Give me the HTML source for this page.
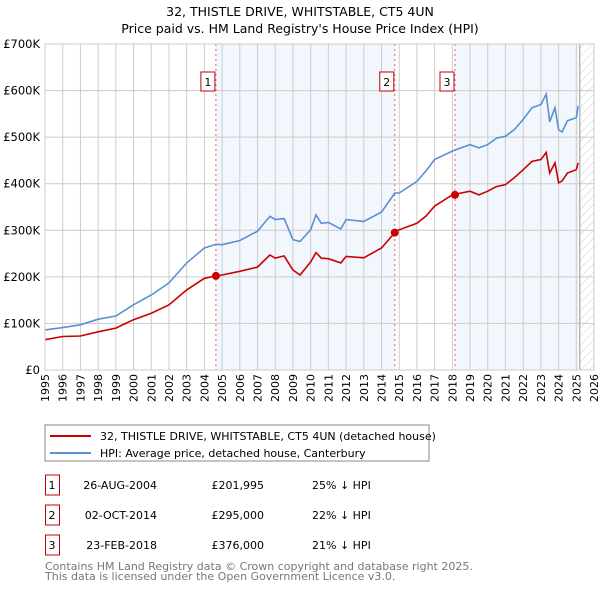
<!DOCTYPE html>
<html><head><meta charset="utf-8"><style>
body{margin:0;background:#fff;font-family:"Liberation Sans","DejaVu Sans",sans-serif;}
svg text{font-family:"DejaVu Sans","Liberation Sans",sans-serif;}
</style></head><body>
<svg id="c" width="600" height="590" xmlns="http://www.w3.org/2000/svg">
<defs><pattern id="hatch" width="6" height="6" patternUnits="userSpaceOnUse" patternTransform="rotate(45)"><line x1="0" y1="0" x2="0" y2="6" stroke="#ccc" stroke-width="1"/></pattern></defs>
<text x="300" y="16" text-anchor="middle" font-size="12.5">32, THISTLE DRIVE, WHITSTABLE, CT5 4UN</text>
<text x="300" y="33" text-anchor="middle" font-size="12.5">Price paid vs. HM Land Registry's House Price Index (HPI)</text>
<g id="plot"></g>
<rect x="45" y="425" width="384" height="36" fill="#fff" stroke="#888"/>
<line x1="50" y1="436" x2="91" y2="436" stroke="#cc0000" stroke-width="2"/>
<text x="100" y="440" font-size="11">32, THISTLE DRIVE, WHITSTABLE, CT5 4UN (detached house)</text>
<line x1="50" y1="453" x2="91" y2="453" stroke="#5b8fd4" stroke-width="2"/>
<text x="100" y="457" font-size="11">HPI: Average price, detached house, Canterbury</text>
<g id="tbl" font-size="11"></g>
<text x="45" y="570" font-size="11" fill="#777">Contains HM Land Registry data © Crown copyright and database right 2025.</text>
<text x="45" y="580" font-size="11" fill="#777">This data is licensed under the Open Government Licence v3.0.</text>
</svg>
<script>
const hpiYears=[1995,1996,1997,1998,1999,2000,2001,2002,2003,2004,2004.65,2005,2006,2007,2007.7,2008,2008.5,2009,2009.4,2010,2010.3,2010.6,2011,2011.7,2012,2013,2014,2014.75,2015,2016,2016.5,2017,2018,2019,2019.5,2020,2020.5,2021,2021.5,2022,2022.5,2023,2023.3,2023.5,2023.8,2024,2024.2,2024.5,2025,2025.1];
const hpiValues=[86,91,97,109,116,140,161,187,230,262,270,269,278,298,330,323,325,280,276,301,333,315,317,303,323,319,339,380,380,405,427,452,470,484,477,484,498,502,516,538,563,570,592,533,563,516,511,535,542,567];
const priceValues=[65,72,73,82,90,108,122,140,172,197,202,204,212,221,247,240,245,215,204,232,252,240,239,230,244,241,262,295,301,315,330,352,376,384,376,384,394,398,413,430,448,452,467,423,445,402,406,423,430,445];
const saleLabels=["1","2","3"];
const saleYears=[2004.65,2014.75,2018.15];
const salePrices=[201.995,295,376];
const saleDates=["26-AUG-2004","02-OCT-2014","23-FEB-2018"];
const salePriceText=["£201,995","£295,000","£376,000"];
const saleHpiText=["25% ↓ HPI","22% ↓ HPI","21% ↓ HPI"];
const yTicks=[0,100,200,300,400,500,600,700];
const yTickLabels=["£0","£100K","£200K","£300K","£400K","£500K","£600K","£700K"];
const xTicks=[];for(let y=1995;y<=2026;y++)xTicks.push(y);
const X0=45,X1=594,Y0=370,Y1=44;
const xs=v=>X0+(v-1995)/(2026-1995)*(X1-X0);
const ys=v=>Y0-v/700*(Y0-Y1);
const NS="http://www.w3.org/2000/svg";
const g=document.getElementById('plot');
function mk(t,a,p){const e=document.createElementNS(NS,t);for(const k in a)e.setAttribute(k,a[k]);(p||g).appendChild(e);return e;}
// shading
let e=mk('rect',{x:xs(saleYears[0]),y:Y1,width:xs(saleYears[1])-xs(saleYears[0]),height:Y0-Y1,fill:'#eef3fc',opacity:0.75});


e=mk('rect',{x:xs(saleYears[2]),y:Y1,width:xs(2025.2)-xs(saleYears[2]),height:Y0-Y1,fill:'#eef3fc',opacity:0.75});


e=mk('rect',{x:xs(2025.2),y:Y1,width:X1-xs(2025.2),height:Y0-Y1,fill:'url(#hatch)'});


// grid
xTicks.forEach((t,i)=>{
 const l=mk('line',{x1:xs(t),x2:xs(t),y1:Y1,y2:Y0,stroke:'#ccc','stroke-width':1});
 
 
 const tx=mk('text',{x:0,y:0,'font-size':11,'text-anchor':'end',transform:`translate(${xs(t)+4},${Y0+4}) rotate(-90)`});
 tx.textContent=t;
 
 
});
yTicks.forEach((t,i)=>{
 const l=mk('line',{x1:X0,x2:X1,y1:ys(t),y2:ys(t),stroke:'#ccc','stroke-width':1});
 
 
 const tx=mk('text',{x:X0-5,y:ys(t)+4,'font-size':11.5,'text-anchor':'end'});
 tx.textContent=yTickLabels[i];
 
 
});
e=mk('line',{x1:xs(2025.2),x2:xs(2025.2),y1:Y1,y2:Y0,stroke:'#999','stroke-width':1});


// sale vlines + markers
saleYears.forEach((s,i)=>{
 const l=mk('line',{x1:xs(s),x2:xs(s),y1:Y1,y2:Y0,stroke:'#e06060','stroke-width':1,'stroke-dasharray':'2,3'});
 
 
 const r=mk('rect',{x:xs(s)-15,y:72,width:14,height:19,fill:'#fff',stroke:'#c00000'});
 
 
 const t=mk('text',{x:xs(s)-8,y:86,'font-size':11,'text-anchor':'middle'});
 t.textContent=saleLabels[i];
 
 
});
function line(vals,col,name){
 const d=vals.map((v,i)=>(i?'L':'M')+xs(hpiYears[i]).toFixed(1)+','+ys(v).toFixed(1)).join('');
 const p=mk('path',{d:d,fill:'none',stroke:col,'stroke-width':1.6});
 
 
}
line(hpiValues,'#5b8fd4','hpi-line');
line(priceValues,'#cc0000','price-paid-line');
saleYears.forEach((s,i)=>{
 const c=mk('circle',{cx:xs(s),cy:ys(salePrices[i]),r:4,fill:'#cc0000'});
 
 
});
mk('rect',{x:X0,y:Y1,width:X1-X0,height:Y0-Y1,fill:'none',stroke:'#ccc'});
// table
const tb=document.getElementById('tbl');
saleLabels.forEach((lab,i)=>{
 const y=475+i*30;
 const r=mk('rect',{x:45.5,y:y,width:14,height:20,fill:'#fff',stroke:'#c00000'},tb);
 
 
 const cols=[[52,lab,'middle'],[157,saleDates[i],'end'],[264,salePriceText[i],'end'],[312,saleHpiText[i],'start']];
 cols.forEach((c,j)=>{
  const t=mk('text',{x:c[0],y:y+14,'text-anchor':c[2]},tb);
  t.textContent=c[1];
  
  
 });
});
</script>
</body></html>
